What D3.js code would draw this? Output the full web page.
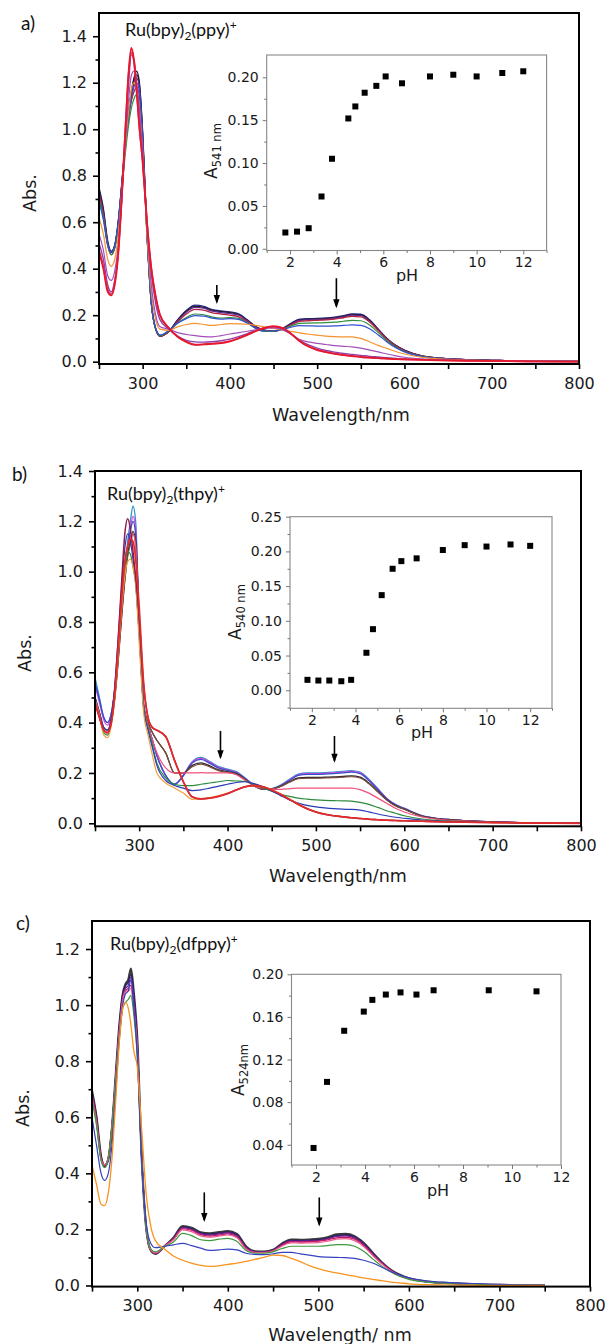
<!DOCTYPE html>
<html><head><meta charset="utf-8">
<script src="https://cdn.jsdelivr.net/npm/d3@7"></script>
<style>
body{margin:0;background:#fff;}
svg{display:block;}
</style></head><body>
<svg id="chart" width="609" height="1344"></svg>
<script>
// ---------------- DATA ----------------
const WL = [250,255,260,264,268,272,276,280,284,287,290,293,296,300,305,310,315,320,330,340,350,360,370,380,390,400,410,420,430,440,450,460,470,480,490,500,510,520,530,540,550,560,570,580,590,600,620,640,670,700,750,800];
const WL_C = [250,255,260,264,268,272,276,280,284,287,290,293,296,300,305,310,315,320,330,340,350,360,370,380,390,400,410,420,430,440,450,460,470,480,490,500,510,520,530,540,550,560,570,580,590,600,620,640,670,700,750];

// panel a spectra
const aNavy    = [.75,.66,.52,.475,.50,.60,.76,.93,1.07,1.15,1.21,1.235,1.20,.98,.55,.25,.14,.11,.13,.18,.22,.243,.238,.224,.218,.214,.206,.18,.15,.136,.132,.143,.165,.183,.185,.186,.188,.192,.198,.206,.204,.18,.14,.10,.07,.05,.025,.015,.009,.006,.002,.001];
const aBlack   = [.74,.65,.51,.47,.50,.60,.76,.94,1.08,1.16,1.22,1.25,1.21,.99,.56,.25,.14,.11,.13,.178,.217,.238,.234,.221,.215,.211,.203,.178,.149,.135,.131,.142,.163,.18,.182,.183,.185,.189,.195,.203,.201,.178,.139,.099,.069,.049,.025,.015,.009,.006,.002,.001];
const aPurpleD = [.73,.64,.51,.47,.49,.59,.75,.92,1.06,1.14,1.2,1.22,1.19,.97,.55,.25,.14,.11,.13,.175,.213,.234,.23,.217,.211,.207,.2,.176,.148,.134,.131,.141,.161,.178,.18,.181,.183,.187,.193,.2,.198,.175,.137,.098,.068,.048,.024,.015,.009,.006,.002,.001];
const aCrimson = [.72,.63,.5,.46,.49,.59,.75,.92,1.05,1.12,1.16,1.18,1.15,.95,.55,.25,.14,.11,.13,.17,.205,.225,.222,.21,.205,.2,.193,.172,.146,.133,.131,.14,.158,.173,.176,.178,.18,.183,.189,.195,.193,.171,.134,.096,.067,.047,.024,.015,.009,.006,.002,.001];
const aGreen   = [.70,.62,.5,.46,.49,.58,.73,.89,1.02,1.09,1.13,1.15,1.12,.93,.54,.25,.14,.112,.132,.165,.19,.205,.202,.192,.188,.19,.186,.167,.142,.13,.13,.138,.153,.165,.166,.167,.168,.17,.174,.178,.176,.158,.125,.09,.063,.044,.023,.014,.008,.005,.002,.001];
const aBlue    = [.69,.61,.5,.47,.5,.6,.76,.93,1.06,1.13,1.18,1.2,1.17,.96,.55,.26,.145,.115,.135,.165,.185,.198,.196,.187,.183,.185,.182,.166,.143,.132,.132,.138,.148,.155,.154,.153,.153,.154,.156,.158,.156,.142,.115,.085,.06,.042,.022,.014,.008,.005,.002,.001];
const aOrange  = [.62,.55,.44,.41,.44,.54,.72,.92,1.08,1.17,1.2,1.18,1.1,.9,.55,.3,.18,.14,.135,.15,.16,.165,.16,.156,.16,.164,.163,.161,.156,.15,.143,.136,.13,.124,.118,.114,.11,.108,.107,.107,.1,.086,.07,.057,.044,.033,.019,.012,.007,.004,.002,.001];
const aViolet  = [.55,.48,.37,.35,.39,.5,.7,.93,1.13,1.23,1.25,1.2,1.1,.9,.58,.33,.2,.15,.14,.125,.117,.112,.108,.107,.112,.119,.125,.131,.137,.143,.145,.138,.118,.095,.085,.079,.074,.069,.066,.064,.058,.05,.042,.033,.025,.019,.012,.008,.005,.003,.001,.001];
const aPurple  = [.51,.44,.33,.3,.35,.47,.69,.96,1.2,1.32,1.3,1.2,1.05,.88,.6,.38,.25,.18,.14,.11,.092,.085,.084,.086,.09,.097,.108,.121,.135,.146,.15,.143,.12,.092,.072,.058,.048,.041,.035,.031,.027,.023,.02,.017,.014,.012,.009,.007,.005,.003,.001,0];
const aPink    = [.48,.41,.31,.29,.34,.47,.71,.99,1.24,1.33,1.29,1.17,1.02,.86,.6,.4,.28,.2,.146,.108,.086,.074,.075,.078,.081,.088,.101,.116,.133,.146,.152,.146,.121,.089,.066,.051,.042,.035,.029,.025,.021,.018,.015,.013,.011,.01,.008,.006,.004,.003,.001,0];
const aRed     = [.47,.40,.30,.285,.33,.46,.70,.98,1.25,1.35,1.3,1.17,1.02,.86,.6,.4,.28,.2,.145,.107,.085,.072,.074,.077,.08,.087,.1,.115,.132,.145,.152,.145,.12,.088,.065,.05,.041,.034,.028,.024,.02,.017,.015,.013,.011,.01,.008,.006,.004,.003,.001,0];

// panel b spectra
const bCyan    = [.58,.5,.42,.40,.43,.52,.68,.86,1.02,1.12,1.2,1.26,1.2,.8,.47,.39,.33,.27,.19,.155,.19,.245,.262,.245,.225,.215,.205,.18,.152,.137,.138,.152,.175,.195,.2,.2,.201,.203,.206,.209,.203,.175,.138,.1,.075,.06,.03,.018,.01,.005,.002,.001];
const bMagenta = [.55,.48,.41,.39,.42,.51,.67,.85,1.0,1.1,1.17,1.22,1.17,.8,.47,.39,.33,.27,.19,.155,.19,.243,.258,.242,.222,.212,.202,.178,.151,.136,.137,.15,.172,.192,.197,.197,.198,.2,.203,.206,.2,.172,.136,.099,.074,.059,.03,.018,.01,.005,.002,.001];
const bBlue    = [.56,.49,.42,.40,.43,.52,.67,.85,1.0,1.1,1.16,1.2,1.15,.79,.47,.39,.33,.27,.19,.156,.19,.24,.254,.238,.219,.21,.2,.177,.15,.136,.137,.149,.17,.19,.194,.194,.195,.197,.2,.203,.197,.17,.134,.098,.073,.058,.029,.018,.01,.005,.002,.001];
const bBlack   = [.5,.44,.38,.37,.40,.49,.64,.82,.98,1.07,1.12,1.16,1.12,.8,.47,.4,.36,.33,.28,.2,.2,.23,.24,.228,.212,.205,.197,.175,.149,.136,.137,.147,.165,.18,.182,.182,.183,.184,.186,.188,.183,.16,.127,.094,.07,.056,.028,.017,.01,.005,.002,.001];
const bBrown   = [.5,.44,.37,.36,.39,.48,.63,.81,.97,1.06,1.11,1.15,1.11,.8,.47,.4,.36,.33,.28,.2,.2,.225,.235,.224,.209,.202,.195,.174,.148,.136,.137,.146,.163,.177,.179,.179,.18,.181,.183,.185,.18,.157,.125,.093,.07,.056,.028,.017,.01,.005,.002,.001];
const bPink    = [.5,.44,.37,.36,.4,.5,.66,.85,1.02,1.1,1.14,1.15,1.1,.8,.47,.39,.33,.28,.22,.2,.2,.2,.201,.2,.2,.2,.193,.17,.148,.14,.136,.135,.137,.14,.14,.14,.14,.14,.14,.14,.134,.12,.1,.08,.06,.045,.025,.015,.009,.005,.002,.001];
const bGreen   = [.5,.43,.36,.35,.39,.5,.67,.86,1.02,1.08,1.07,1.02,.95,.75,.46,.38,.31,.24,.18,.155,.15,.15,.155,.16,.165,.17,.168,.166,.155,.14,.128,.115,.107,.1,.096,.093,.091,.09,.089,.088,.083,.075,.063,.05,.04,.03,.017,.011,.007,.004,.002,.001];
const bNavy    = [.5,.44,.38,.37,.41,.53,.72,.93,1.1,1.15,1.12,1.05,.96,.75,.46,.37,.3,.23,.17,.15,.14,.13,.133,.14,.148,.155,.162,.165,.158,.145,.128,.11,.093,.08,.071,.065,.061,.058,.056,.055,.052,.045,.037,.03,.024,.02,.013,.009,.006,.004,.002,.001];
const bOrange  = [.49,.43,.35,.34,.38,.49,.66,.85,.99,1.04,1.05,1.02,.95,.72,.44,.35,.27,.2,.16,.14,.12,.095,.098,.102,.11,.12,.133,.146,.15,.146,.134,.117,.097,.077,.06,.047,.038,.031,.027,.023,.02,.017,.015,.013,.011,.01,.008,.006,.004,.003,.001,0];
const bMaroon  = [.48,.42,.37,.36,.40,.52,.72,.95,1.16,1.21,1.17,1.08,.98,.82,.55,.42,.38,.37,.345,.25,.165,.105,.096,.1,.107,.118,.132,.145,.15,.145,.132,.115,.095,.075,.058,.045,.036,.03,.026,.022,.019,.016,.014,.012,.011,.01,.008,.006,.004,.003,.001,0];
const bRed     = [.48,.42,.37,.36,.39,.5,.68,.88,1.05,1.1,1.13,1.12,1.05,.86,.56,.42,.38,.37,.345,.25,.165,.105,.097,.1,.107,.118,.132,.145,.15,.145,.132,.115,.095,.075,.058,.045,.036,.03,.026,.022,.019,.016,.014,.012,.011,.01,.008,.006,.004,.003,.001,0];

// panel c spectra
const cBlack   = [.695,.6,.46,.425,.45,.56,.74,.92,1.04,1.075,1.09,1.13,1.05,.88,.45,.2,.125,.113,.14,.17,.212,.206,.19,.186,.19,.194,.184,.14,.122,.121,.127,.15,.164,.163,.164,.166,.172,.182,.184,.176,.152,.117,.083,.056,.038,.026,.014,.009,.005,.002,.001];
const cNavy    = [.69,.6,.46,.43,.455,.565,.74,.92,1.04,1.07,1.08,1.11,1.04,.87,.45,.2,.125,.114,.14,.168,.208,.203,.187,.183,.187,.191,.181,.138,.121,.12,.126,.148,.161,.16,.161,.163,.169,.178,.18,.173,.149,.115,.082,.055,.037,.025,.014,.009,.005,.002,.001];
const cPurple  = [.68,.59,.455,.425,.45,.56,.73,.9,1.03,1.06,1.07,1.1,1.03,.86,.45,.2,.125,.114,.14,.167,.206,.2,.185,.18,.184,.188,.178,.136,.12,.119,.125,.146,.159,.158,.159,.16,.166,.175,.177,.17,.147,.113,.081,.054,.036,.025,.013,.009,.005,.002,.001];
const cMagenta = [.68,.59,.455,.43,.455,.565,.73,.9,1.02,1.05,1.06,1.07,1.0,.85,.45,.2,.125,.115,.14,.165,.203,.197,.181,.176,.18,.184,.174,.133,.118,.118,.124,.144,.156,.155,.156,.158,.163,.17,.172,.165,.143,.11,.079,.053,.036,.025,.013,.009,.005,.002,.001];
const cPink    = [.67,.58,.45,.43,.455,.565,.73,.9,1.02,1.05,1.05,1.06,.99,.85,.45,.2,.126,.116,.14,.163,.198,.192,.177,.172,.176,.18,.17,.13,.117,.117,.123,.141,.152,.151,.152,.153,.158,.165,.167,.16,.139,.107,.077,.052,.035,.024,.013,.009,.005,.002,.001];
const cGreen   = [.66,.57,.445,.42,.45,.56,.72,.88,.99,1.01,1.02,1.035,.97,.82,.44,.2,.13,.12,.138,.155,.186,.178,.163,.16,.165,.168,.158,.125,.115,.115,.12,.132,.14,.14,.14,.14,.142,.146,.146,.14,.122,.095,.069,.048,.032,.022,.012,.008,.005,.002,.001];
const cBlue    = [.6,.5,.4,.375,.4,.5,.68,.87,1.0,1.04,1.05,1.09,1.0,.82,.44,.22,.15,.135,.14,.145,.15,.142,.133,.125,.127,.13,.127,.115,.111,.11,.113,.118,.118,.113,.108,.103,.101,.1,.099,.097,.09,.08,.065,.05,.037,.027,.016,.011,.007,.004,.001];
const cOrange  = [.43,.36,.29,.285,.33,.45,.65,.86,.99,1.01,.99,.93,.84,.78,.55,.32,.21,.16,.13,.105,.09,.08,.072,.068,.07,.075,.08,.086,.093,.1,.108,.107,.097,.085,.071,.06,.051,.045,.039,.033,.027,.022,.017,.012,.009,.006,.003,.002,.001,0,0];

// inset titration data
const phA  = [1.8,2.3,2.8,3.35,3.8,4.5,4.8,5.2,5.7,6.1,6.8,8.0,9.0,10.0,11.1,12.0];
const absA = [0.019,0.020,0.024,0.061,0.105,0.152,0.166,0.182,0.190,0.201,0.193,0.201,0.203,0.201,0.205,0.207];
const phB  = [1.8,2.3,2.8,3.35,3.8,4.5,4.8,5.2,5.7,6.1,6.8,8.0,9.0,10.0,11.1,12.0];
const absB = [0.015,0.014,0.014,0.013,0.015,0.054,0.088,0.137,0.175,0.186,0.190,0.202,0.209,0.207,0.210,0.208];
const phC  = [1.9,2.45,3.15,3.95,4.3,4.85,5.45,6.1,6.8,9.05,11.0];
const absC = [0.037,0.099,0.147,0.165,0.176,0.181,0.183,0.181,0.185,0.185,0.184];

// arrows: [wavelength, start abs, tip abs]
const arrowsA = [[385,0.33,0.248],[522,0.359,0.23]];
const arrowsB = [[392,0.367,0.254],[521,0.347,0.241]];
const arrowsC = [[374,0.332,0.226],[501,0.314,0.21]];

// tick values
const mainXTicks = [300,400,500,600,700,800];
const mainXMinor = [250,350,450,550,650,750];
const yTicksAB = [0,0.2,0.4,0.6,0.8,1.0,1.2,1.4];
const yMinorAB = [0.1,0.3,0.5,0.7,0.9,1.1,1.3];
const yTicksC = [0,0.2,0.4,0.6,0.8,1.0,1.2];
const yMinorC = [0.1,0.3,0.5,0.7,0.9,1.1];
const insXTicks = [2,4,6,8,10,12];
const insXMinorAB = [1,3,5,7,9,11,13];
const insXMinorC = [1,3,5,7,9,11];
const insYTicksA = [0,0.05,0.10,0.15,0.20];
const insYMinorA = [0.025,0.075,0.125,0.175];
const insYTicksB = [0,0.05,0.10,0.15,0.20,0.25];
const insYMinorB = [-0.025,0.025,0.075,0.125,0.175,0.225];
const insYTicksC = [0.04,0.08,0.12,0.16,0.20];
const insYMinorC = [0.06,0.10,0.14,0.18];

// ---------------- DRAW ----------------
const svg = d3.select('#chart');
const TICKFONT = '"DejaVu Sans", "Liberation Sans", Arial, sans-serif';
const LABFONT = 'Lato, "Open Sans", sans-serif';

function axisStyle(sel, col, fs){
  sel.select('.domain').remove();
  sel.selectAll('line').attr('stroke', col);
  sel.selectAll('text').attr('font-family', TICKFONT).attr('font-size', fs).attr('fill','#1a1a1a');
}

function drawPanel(p){
  const x = d3.scaleLinear().domain([250,800]).range(p.xr);
  const y = d3.scaleLinear().domain(p.yd).range(p.yr);
  const g = svg.append('g');
  const line = d3.line().x(d=>x(d[0])).y(d=>y(d[1])).curve(d3.curveMonotoneX);
  p.series.forEach(s=>{
    g.append('path').attr('d', line(p.wl.map((w,i)=>[w, s[0][i]])))
      .attr('fill','none').attr('stroke', s[1]).attr('stroke-width', s[2]||1.2).attr('stroke-linejoin','round');
  });
  // arrows
  p.arrows.forEach(a=>{
    const ax = x(a[0]), y0 = y(a[1]), y1 = y(a[2]);
    g.append('line').attr('x1',ax).attr('x2',ax).attr('y1',y0).attr('y2',y1-2).attr('stroke','#000').attr('stroke-width',1.6);
    g.append('path').attr('d',`M${ax-3.2},${y1-9} L${ax},${y1} L${ax+3.2},${y1-9} Z`).attr('fill','#000');
  });
  // axes
  const gy = g.append('g').attr('transform',`translate(${p.xr[0]},0)`)
    .call(d3.axisLeft(y).tickValues(p.yt).tickSize(6).tickPadding(6).tickFormat(d3.format('.1f')));
  axisStyle(gy,'#000',p.fs); gy.selectAll('line').attr('stroke-width',1.6);
  const gym = g.append('g').attr('transform',`translate(${p.xr[0]},0)`)
    .call(d3.axisLeft(y).tickValues(p.ym).tickSize(3.5).tickFormat(''));
  axisStyle(gym,'#000',p.fs); gym.selectAll('line').attr('stroke-width',1.6);
  const gx = g.append('g').attr('transform',`translate(0,${p.yr[0]})`)
    .call(d3.axisBottom(x).tickValues(mainXTicks).tickSize(5).tickPadding(p.xpad).tickFormat(d3.format('d')));
  axisStyle(gx,'#000',p.fs); gx.selectAll('line').attr('stroke-width',1.6);
  const gxm = g.append('g').attr('transform',`translate(0,${p.yr[0]})`)
    .call(d3.axisBottom(x).tickValues(mainXMinor).tickSize(5).tickFormat(''));
  axisStyle(gxm,'#000',p.fs); gxm.selectAll('line').attr('stroke-width',1.6);
  // frame
  g.append('rect').attr('x',p.xr[0]).attr('y',p.yr[1]).attr('width',p.xr[1]-p.xr[0]).attr('height',p.yr[0]-p.yr[1])
    .attr('fill','none').attr('stroke','#000').attr('stroke-width',2);
  // labels
  g.append('text').attr('x',p.tag[0]).attr('y',p.tag[1]).text(p.tag[2])
    .attr('font-family',LABFONT).attr('font-size',19).attr('fill','#111');
  g.append('text').attr('transform',`translate(${p.abs[0]},${p.abs[1]}) rotate(-90)`).attr('text-anchor','middle')
    .text('Abs.').attr('font-family',TICKFONT).attr('font-size',17.5).attr('fill','#1a1a1a');
  g.append('text').attr('x',p.wlt[0]).attr('y',p.wlt[1]).attr('text-anchor','middle').text(p.wlt[2])
    .attr('font-family',TICKFONT).attr('font-size',17.5).attr('fill','#1a1a1a');
  const cl = g.append('text').attr('x',p.cmp[0]).attr('y',p.cmp[1]).attr('font-family',LABFONT).attr('font-size',18).attr('fill','#111');
  cl.append('tspan').text('Ru(bpy)');
  cl.append('tspan').attr('dy',4).attr('font-size',12).text('2');
  cl.append('tspan').attr('dy',-4).text(p.cmp[2]);
  cl.append('tspan').attr('dy',-7).attr('font-size',12).text('+');
  // inset
  const ix = d3.scaleLinear().domain(p.ins.xd).range(p.ins.xr);
  const iy = d3.scaleLinear().domain(p.ins.yd).range(p.ins.yr);
  const ig = svg.append('g');
  ig.append('rect').attr('x',p.ins.xr[0]).attr('y',p.ins.yr[1]).attr('width',p.ins.xr[1]-p.ins.xr[0]).attr('height',p.ins.yr[0]-p.ins.yr[1])
    .attr('fill','#fff').attr('stroke','#888').attr('stroke-width',1.1);
  const igy = ig.append('g').attr('transform',`translate(${p.ins.xr[0]},0)`)
    .call(d3.axisLeft(iy).tickValues(p.ins.yt).tickSize(4).tickPadding(4).tickFormat(d3.format('.2f')));
  axisStyle(igy,'#777',14);
  const igym = ig.append('g').attr('transform',`translate(${p.ins.xr[0]},0)`)
    .call(d3.axisLeft(iy).tickValues(p.ins.ym).tickSize(2.5).tickFormat(''));
  axisStyle(igym,'#777',14);
  const igx = ig.append('g').attr('transform',`translate(0,${p.ins.yr[0]})`)
    .call(d3.axisBottom(ix).tickValues(insXTicks).tickSize(4).tickPadding(3).tickFormat(d3.format('d')));
  axisStyle(igx,'#777',14);
  const igxm = ig.append('g').attr('transform',`translate(0,${p.ins.yr[0]})`)
    .call(d3.axisBottom(ix).tickValues(p.ins.xm).tickSize(2.5).tickFormat(''));
  axisStyle(igxm,'#777',14);
  ig.selectAll('.pt').data(p.ins.ph.map((v,i)=>[v,p.ins.ab[i]])).enter().append('rect')
    .attr('x',d=>ix(d[0])-3).attr('y',d=>iy(d[1])-3).attr('width',6).attr('height',6).attr('fill','#000');
  ig.append('text').attr('x',p.ins.ph_lab[0]).attr('y',p.ins.ph_lab[1]).attr('text-anchor','middle').text('pH')
    .attr('font-family',TICKFONT).attr('font-size',16).attr('fill','#1a1a1a');
  const yt = ig.append('text').attr('transform',`translate(${p.ins.ylab[0]},${p.ins.ylab[1]}) rotate(-90)`).attr('text-anchor','middle')
    .attr('font-family',TICKFONT).attr('font-size',17).attr('fill','#1a1a1a');
  yt.append('tspan').text('A');
  yt.append('tspan').attr('dy',4).attr('font-size',11.5).text(p.ins.ylab[2]);
}

drawPanel({
  wl: WL, xr:[99,579], yd:[-0.01,1.5], yr:[364,13], fs:16, xpad:9,
  yt:yTicksAB, ym:yMinorAB,
  series:[[aNavy,'#2b2b8f',1.3],[aBlack,'#1b1b1b',1.3],[aPurpleD,'#5e2a94',1.3],[aCrimson,'#b3213f',1.3],[aGreen,'#2f8f3f',1.2],
          [aBlue,'#2f4fd0',1.2],[aOrange,'#f5932f',1.2],[aViolet,'#a24fba',1.2],[aPurple,'#8e3fa8',1.4],[aPink,'#e0336f',1.6],[aRed,'#e5192b',1.8]],
  arrows: arrowsA,
  tag:[21,30,'a)'], abs:[36,193], wlt:[341,421,'Wavelength/nm'], cmp:[125,36,'(ppy)'],
  ins:{xd:[1,13], xr:[266.7,546.6], yd:[-0.002,0.226], yr:[250.5,55], yt:insYTicksA, ym:insYMinorA, xm:insXMinorAB,
       ph:phA, ab:absA, ph_lab:[407,281], ylab:[217,151,'541 nm']}
});

drawPanel({
  wl: WL, xr:[95,581], yd:[-0.012,1.4], yr:[826.3,471], fs:16, xpad:8,
  yt:yTicksAB, ym:yMinorAB,
  series:[[bCyan,'#2a93c4',1.3],[bMagenta,'#d945e6',1.3],[bBlue,'#3b4cc9',1.3],[bBlack,'#2a2a2a',1.3],[bBrown,'#7d4a3a',1.2],
          [bPink,'#f2507e',1.2],[bGreen,'#2e8b3e',1.2],[bNavy,'#2a3bb5',1.2],[bOrange,'#f0a040',1.2],[bMaroon,'#8e1c4e',1.5],[bRed,'#e52a2a',1.7]],
  arrows: arrowsB,
  tag:[12,481,'b)'], abs:[31,653], wlt:[338,882,'Wavelength/nm'], cmp:[107,500,'(thpy)'],
  ins:{xd:[1,13], xr:[290,552], yd:[-0.026,0.25], yr:[708.3,516.7], yt:insYTicksB, ym:insYMinorB, xm:insXMinorAB,
       ph:phB, ab:absB, ph_lab:[422,738], ylab:[241,612,'540 nm']}
});

drawPanel({
  wl: WL_C, xr:[92,590], yd:[-0.004,1.3], yr:[1286.6,921], fs:16, xpad:8,
  yt:yTicksC, ym:yMinorC,
  series:[[cBlack,'#3a3a3a',2.2],[cNavy,'#222266',1.3],[cPurple,'#6b1f8f',1.3],[cMagenta,'#c0186a',1.3],[cPink,'#ee5f8f',1.2],
          [cGreen,'#3d9a3d',1.2],[cBlue,'#3541bf',1.2],[cOrange,'#f7931e',1.3]],
  arrows: arrowsC,
  tag:[16,930,'c)'], abs:[29,1108], wlt:[340,1341,'Wavelength/ nm'], cmp:[110,950,'(dfppy)'],
  ins:{xd:[1,12], xr:[291.5,561], yd:[0.021,0.20], yr:[1165,974.3], yt:insYTicksC, ym:insYMinorC, xm:insXMinorC,
       ph:phC, ab:absC, ph_lab:[438,1196], ylab:[244,1070,'524nm']}
});
</script>
</body></html>
